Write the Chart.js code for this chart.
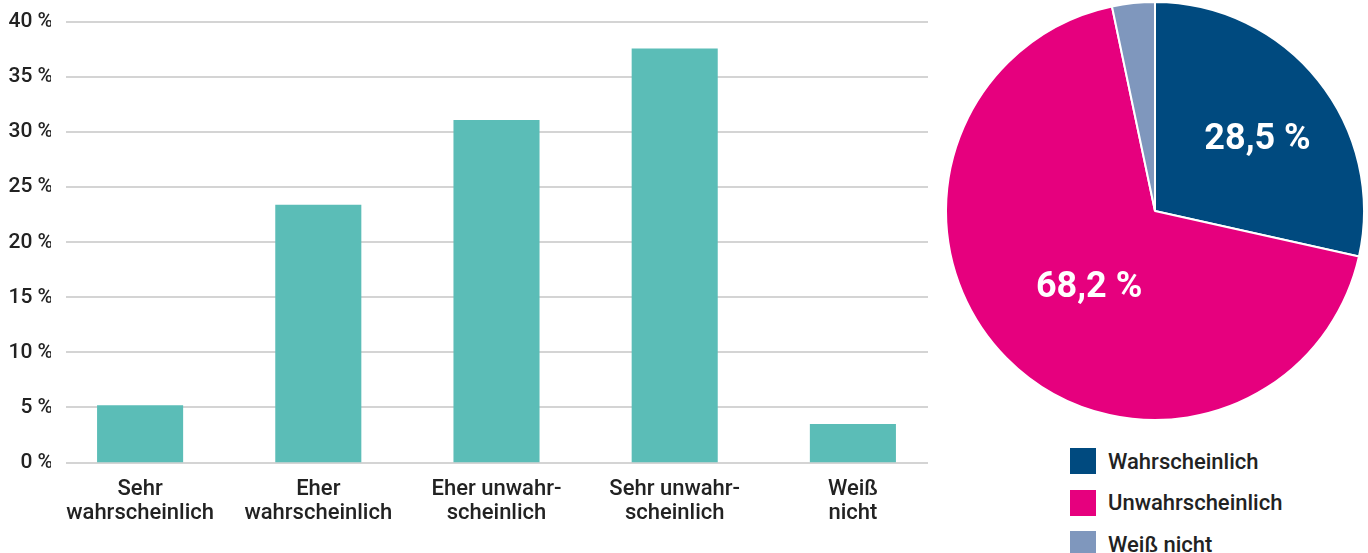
<!DOCTYPE html>
<html>
<head>
<meta charset="utf-8">
<script src="https://cdn.jsdelivr.net/npm/chart.js@4.4.1/dist/chart.umd.min.js"></script>
<style>
  html, body { margin: 0; padding: 0; background: #fff; width: 1368px; height: 553px; overflow: hidden; font-family: Roboto, sans-serif; }
  #barWrap { position: absolute; left: 0; top: 0; width: 945px; height: 553px; }
  #pieWrap { position: absolute; left: 944px; top: 0; width: 422px; height: 422px; }
  #legend { position: absolute; left: 1070px; top: 448px; }
  .item { display: flex; align-items: center; height: 26px; margin-bottom: 15.5px; }
  .box { width: 26px; height: 26px; margin-right: 12px; }
  .lbl { font: 500 22px Roboto, sans-serif; color: #222; }
</style>
</head>
<body>
<div id="barWrap"><canvas id="bar"></canvas></div>
<div id="pieWrap"><canvas id="pie"></canvas></div>
<div id="legend"></div>
<script>
// ---- data ----
const barCategories = [["Sehr", "wahrscheinlich"], ["Eher", "wahrscheinlich"], ["Eher unwahr-", "scheinlich"], ["Sehr unwahr-", "scheinlich"], ["Weiß", "nicht"]];
const barValues = [5.2, 23.4, 31.1, 37.6, 3.5];
const yTicks = [0, 5, 10, 15, 20, 25, 30, 35, 40];
const pieLabels = ["Wahrscheinlich", "Unwahrscheinlich", "Weiß nicht"];
const pieValues = [28.5, 68.2, 3.3];
const pieShownLabels = [true, true, false];

const barColor = '#5bbdb7';
const pieColors = ['#004a7f', '#e6007e', '#7f97bd'];
const textColor = '#222222';
const fmt = v => v.toFixed(1).replace('.', ',') + ' %';

// custom gridlines (shorter than chart area, behind bars)
const gridPlugin = {
  id: 'shortGrid',
  beforeDatasetsDraw(chart) {
    const ctx = chart.ctx, y = chart.scales.y;
    ctx.save();
    ctx.strokeStyle = '#d4d4d4';
    ctx.lineWidth = 2;
    yTicks.forEach(t => {
      const py = Math.round(y.getPixelForValue(t));
      ctx.beginPath();
      ctx.moveTo(66, py);
      ctx.lineTo(928, py);
      ctx.stroke();
    });
    ctx.restore();
  }
};

new Chart(document.getElementById('bar'), {
  type: 'bar',
  data: {
    labels: barCategories,
    datasets: [{ data: barValues, backgroundColor: barColor, categoryPercentage: 1, barPercentage: 0.483 }]
  },
  options: {
    responsive: true, maintainAspectRatio: false, animation: false,
    layout: { padding: { top: 22, right: 3, left: 0, bottom: 0 } },
    plugins: { legend: { display: false }, tooltip: { enabled: false } },
    scales: {
      x: {
        grid: { display: false, drawTicks: false },
        border: { display: false },
        ticks: { color: textColor, font: { family: 'Roboto', size: 22, weight: '500', lineHeight: 1.1 }, padding: 15, maxRotation: 0, autoSkip: false },
        afterFit(s) { s.height = 90.5; }
      },
      y: {
        min: 0, max: 40,
        afterBuildTicks(s) { s.ticks = yTicks.map(v => ({ value: v })); },
        grid: { display: false, drawTicks: false },
        border: { display: false },
        ticks: { color: textColor, font: { family: 'Roboto', size: 21, weight: '500' }, padding: -2, callback: v => v + ' %' },
        afterFit(s) { s.width = 51; }
      }
    }
  },
  plugins: [gridPlugin]
});

const pieLabelPlugin = {
  id: 'pieLabels',
  afterDatasetsDraw(chart) {
    const ctx = chart.ctx;
    const meta = chart.getDatasetMeta(0);
    const factors = [0.604, 0.47, 0.6];
    ctx.save();
    ctx.fillStyle = '#fff';
    ctx.font = 'bold 36px Roboto';
    ctx.textAlign = 'center';
    ctx.textBaseline = 'middle';
    meta.data.forEach((arc, i) => {
      if (!pieShownLabels[i]) return;
      const p = arc.getProps(['x', 'y', 'startAngle', 'endAngle', 'outerRadius'], true);
      const a = (p.startAngle + p.endAngle) / 2;
      const r = p.outerRadius * factors[i];
      ctx.fillText(fmt(pieValues[i]), p.x + Math.cos(a) * r + 4, p.y + Math.sin(a) * r + 8);
    });
    ctx.restore();
  }
};

new Chart(document.getElementById('pie'), {
  type: 'pie',
  data: {
    labels: pieLabels,
    datasets: [{ data: pieValues, backgroundColor: pieColors, borderColor: '#fff', borderWidth: 2 }]
  },
  options: {
    responsive: true, maintainAspectRatio: false, animation: false,
    radius: 209,
    plugins: { legend: { display: false }, tooltip: { enabled: false } }
  },
  plugins: [pieLabelPlugin]
});

// HTML legend from data
const lg = document.getElementById('legend');
pieLabels.forEach((l, i) => {
  const d = document.createElement('div');
  d.className = 'item';
  d.innerHTML = '<div class="box" style="background:' + pieColors[i] + '"></div><span class="lbl"></span>';
  d.querySelector('.lbl').textContent = l;
  lg.appendChild(d);
});
</script>
</body>
</html>
